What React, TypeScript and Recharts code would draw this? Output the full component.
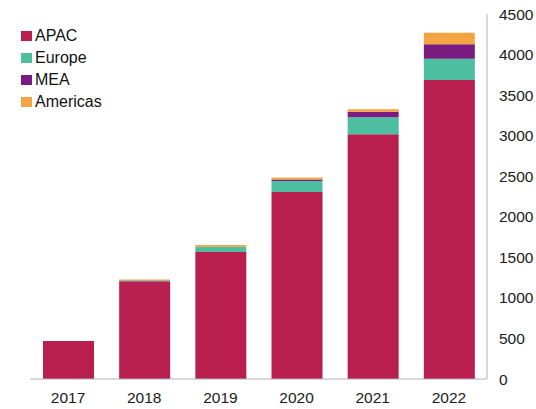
import React from 'react';
import { BarChart, Bar, XAxis, YAxis } from 'recharts';

const years = ['2017', '2018', '2019', '2020', '2021', '2022'];
const apac = [468, 1205, 1566, 2305, 3017, 3686];
const europe = [0, 8, 60, 136, 210, 263];
const mea = [0, 3, 5, 18, 69, 178];
const americas = [0, 10, 20, 25, 30, 143];
const yTicks = [0, 500, 1000, 1500, 2000, 2500, 3000, 3500, 4000, 4500];

const seriesNames = ['APAC', 'Europe', 'MEA', 'Americas'];
const colors = ['#B81F4F', '#4DBE9F', '#7A1C7F', '#F2A541'];

const data = years.map((y, i) => ({
  year: y,
  APAC: apac[i],
  Europe: europe[i],
  MEA: mea[i],
  Americas: americas[i],
}));

const FONT = '"Liberation Sans", Arial, sans-serif';

export default function App() {
  return (
    <div style={{ position: 'absolute', left: 0, top: 0, width: 536, height: 409, background: '#fff' }}>
      <BarChart
        width={536}
        height={409}
        data={data}
        margin={{ top: 14, right: 0, bottom: 0, left: 30 }}
        barCategoryGap={0}
      >
        <XAxis
          dataKey="year"
          axisLine={{ stroke: '#b0b0b0' }}
          tickLine={false}
          tickMargin={7}
          height={30}
          tick={{ fontFamily: FONT, fontSize: 15.5, fill: '#1a1a1a' }}
        />
        <YAxis
          orientation="right"
          width={49}
          domain={[0, 4500]}
          ticks={yTicks}
          interval={0}
          axisLine={{ stroke: '#b0b0b0' }}
          tickLine={false}
          tickMargin={6}
          tick={{ fontFamily: FONT, fontSize: 15.5, fill: '#1a1a1a', textAnchor: 'start' }}
        />
        {seriesNames.map((s, i) => (
          <Bar key={s} dataKey={s} stackId="a" fill={colors[i]} barSize={51} isAnimationActive={false} />
        ))}
      </BarChart>
      <div style={{ position: 'absolute', left: 21, top: 25, fontFamily: FONT, fontSize: 16, color: '#111' }}>
        {seriesNames.map((s, i) => (
          <div key={s} style={{ display: 'flex', alignItems: 'center', height: 22 }}>
            <span style={{ display: 'inline-block', width: 11, height: 10, background: colors[i], marginRight: 3 }} />
            <span>{s}</span>
          </div>
        ))}
      </div>
    </div>
  );
}
